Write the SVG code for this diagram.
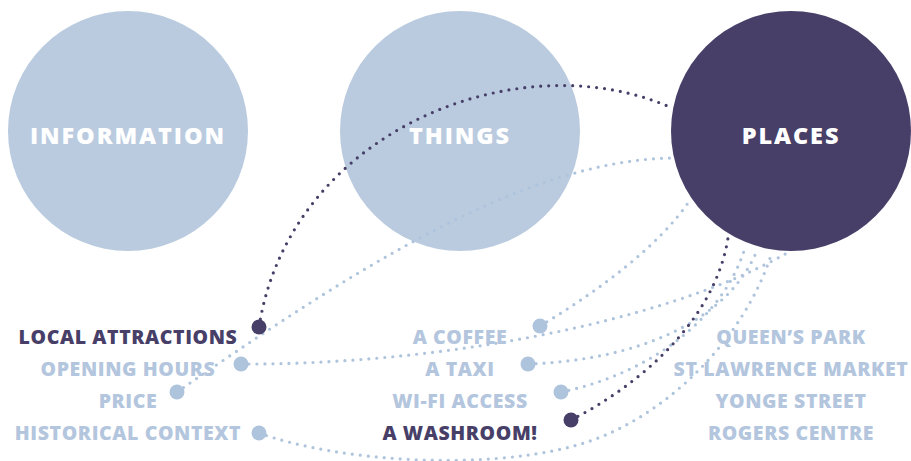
<svg xmlns="http://www.w3.org/2000/svg" width="911" height="461" viewBox="0 0 911 461">
  <style>
    .hub-light { fill: #bacbdf; }
    .hub-dark { fill: #473f68; }
    .hub-text { font-family: "Open Sans", "Liberation Sans", sans-serif; font-weight: 800; font-size: 23.5px; letter-spacing: 1.9px; fill: #ffffff; text-anchor: middle; }
    .label { font-family: "Open Sans", "Liberation Sans", sans-serif; font-weight: 800; font-size: 19.5px; letter-spacing: 0.6px; text-anchor: middle; }
    .label.light { fill: #b3c6de; }
    .label.dark { fill: #473f68; }
    .link { fill: none; stroke-width: 3.2; stroke-linecap: round; stroke-dasharray: 0 8; }
    .link.light { stroke: #aec3dc; }
    .link.dark { stroke: #473f68; }
    .pin.light { fill: #aec3dc; }
    .pin.dark { fill: #473f68; }
  </style>

  <!-- three category circles -->
  <g id="information">
    <circle class="hub-light" cx="128" cy="131" r="120"/>
    <text class="hub-text" x="128" y="144">INFORMATION</text>
  </g>
  <g id="things">
    <circle class="hub-light" cx="460" cy="131" r="120"/>
    <text class="hub-text" x="460" y="144">THINGS</text>
  </g>
  <g id="places">
    <circle class="hub-dark" cx="791" cy="131" r="120"/>
    <text class="hub-text" x="791" y="144">PLACES</text>
  </g>

  <!-- dotted connectors -->
  <g id="connectors">
    <path class="link light" d="M177,392 C330,287 515,160 672,158"/>
    <path class="link light" d="M241,364 C430,365 660,325 787,253"/>
    <path class="link light" d="M259,433 C340,462 480,470 570,447 C660,425 745,340 772,252"/>
    <path class="link light" d="M540,326 C600,290 660,245 690,200"/>
    <path class="link light" d="M528,364 C640,360 730,320 758,248"/>
    <path class="link light" d="M561,392 C645,375 722,322 745,248"/>
    <path class="link dark" d="M259,327 C290,130 520,40 672,108"/>
    <path class="link dark" d="M571,420 C640,385 715,320 728,238"/>
  </g>

  <!-- information items -->
  <g id="local-attractions">
    <text class="label dark" x="128" y="344">LOCAL ATTRACTIONS</text>
    <circle class="pin dark" cx="259" cy="327" r="7.5"/>
  </g>
  <g id="opening-hours">
    <text class="label light" x="128" y="376">OPENING HOURS</text>
    <circle class="pin light" cx="241" cy="364" r="7.5"/>
  </g>
  <g id="price">
    <text class="label light" x="128" y="408">PRICE</text>
    <circle class="pin light" cx="177" cy="392" r="7.5"/>
  </g>
  <g id="historical-context">
    <text class="label light" x="128" y="440">HISTORICAL CONTEXT</text>
    <circle class="pin light" cx="259" cy="433" r="7.5"/>
  </g>

  <!-- things items -->
  <g id="a-coffee">
    <text class="label light" x="460" y="344">A COFFEE</text>
    <circle class="pin light" cx="540" cy="326" r="7.5"/>
  </g>
  <g id="a-taxi">
    <text class="label light" x="460" y="376">A TAXI</text>
    <circle class="pin light" cx="528" cy="364" r="7.5"/>
  </g>
  <g id="wi-fi-access">
    <text class="label light" x="460" y="408">WI-FI ACCESS</text>
    <circle class="pin light" cx="561" cy="392" r="7.5"/>
  </g>
  <g id="a-washroom">
    <text class="label dark" x="460" y="440">A WASHROOM!</text>
    <circle class="pin dark" cx="571" cy="420" r="7.5"/>
  </g>

  <!-- places items -->
  <g id="queens-park">
    <text class="label light" x="791" y="344">QUEEN’S PARK</text>
  </g>
  <g id="st-lawrence-market">
    <text class="label light" x="791" y="376">ST LAWRENCE MARKET</text>
  </g>
  <g id="yonge-street">
    <text class="label light" x="791" y="408">YONGE STREET</text>
  </g>
  <g id="rogers-centre">
    <text class="label light" x="791" y="440">ROGERS CENTRE</text>
  </g>
</svg>
